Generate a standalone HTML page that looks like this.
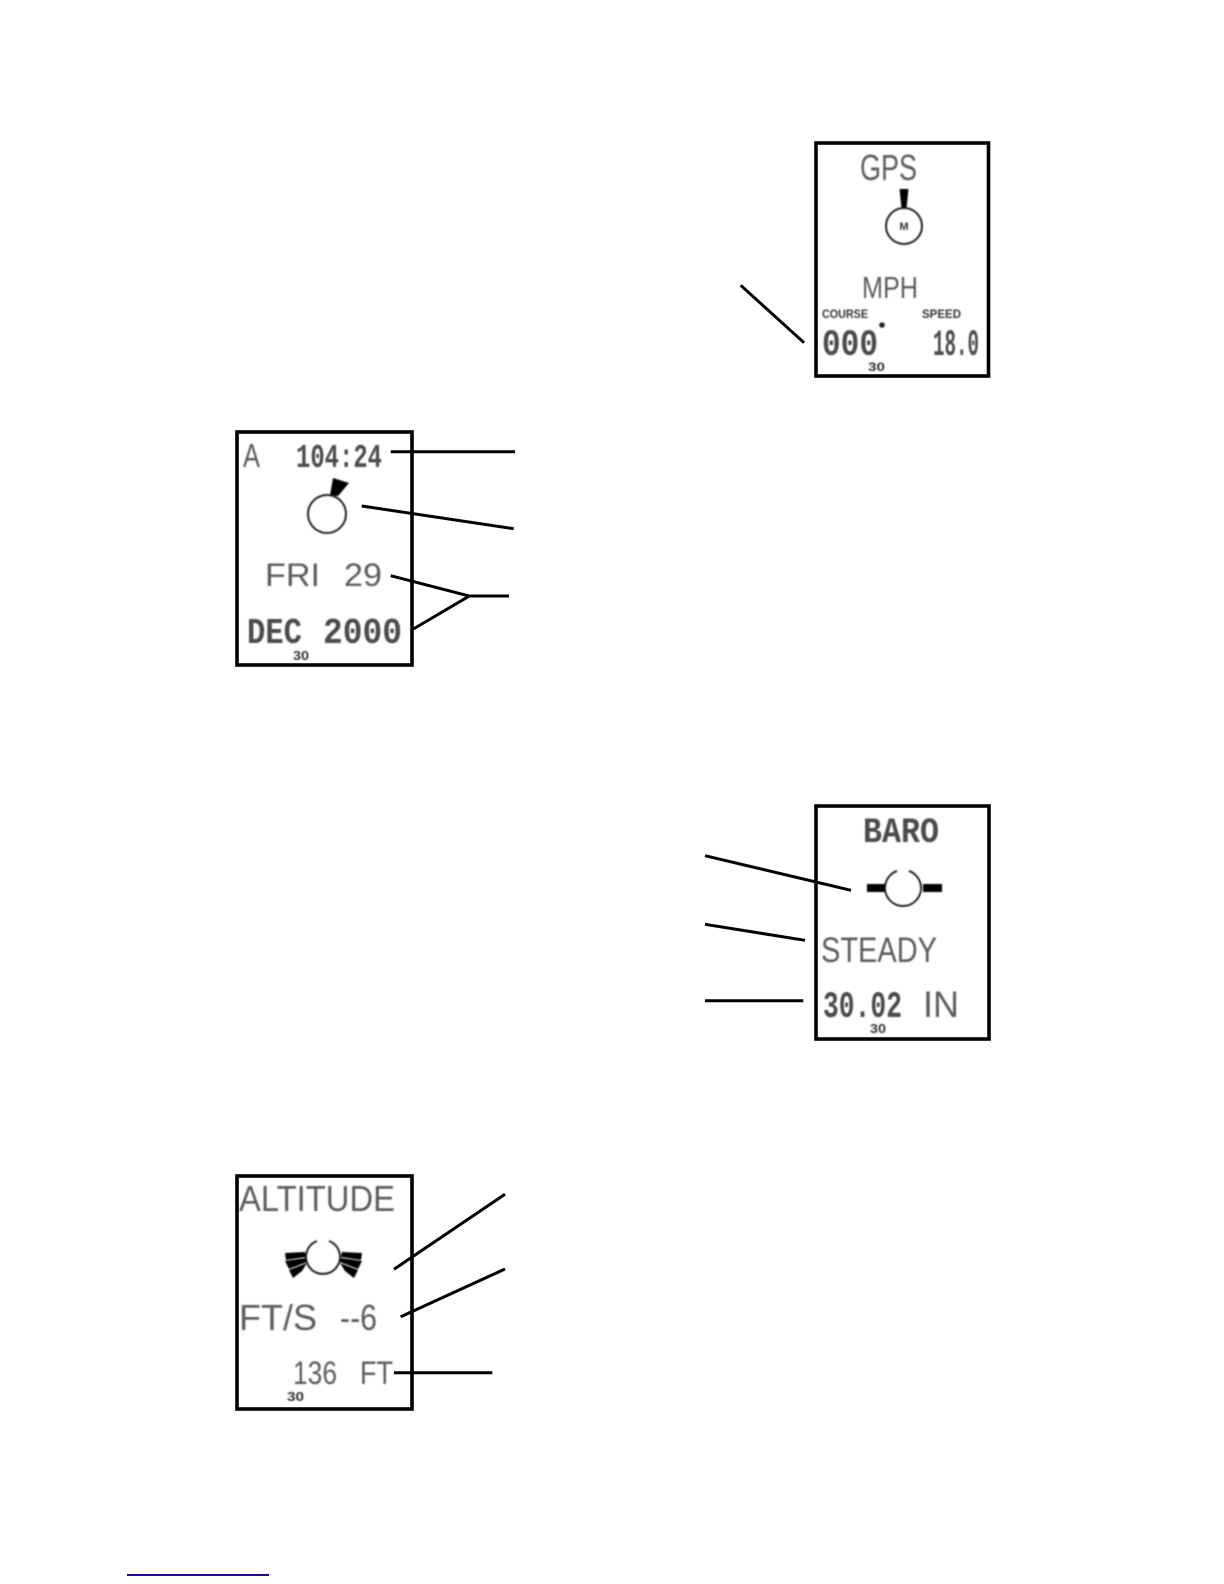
<!DOCTYPE html>
<html>
<head>
<meta charset="utf-8">
<style>
html,body{margin:0;padding:0;background:#fff;width:1224px;height:1584px;overflow:hidden}
svg{display:block}
text{font-family:"Liberation Sans",sans-serif;fill:#5c5c5c}
.m{font-family:"Liberation Mono",monospace;fill:#4c4c4c;font-weight:bold}
.b{font-weight:bold;fill:#333}
</style>
</head>
<body>
<svg width="1224" height="1584" viewBox="0 0 1224 1584" xmlns="http://www.w3.org/2000/svg">
<defs>
<filter id="s" x="-10%" y="-10%" width="120%" height="120%"><feGaussianBlur stdDeviation="0.8"/></filter>
</defs>
<g fill="none" stroke="#000" stroke-width="3.6">
<rect x="816" y="143" width="172.500" height="233"/>
<rect x="237" y="432" width="175" height="233"/>
<rect x="816" y="806" width="173" height="233"/>
<rect x="237" y="1176" width="175" height="233"/>
</g>
<g filter="url(#s)">
<!-- GPS -->
<text x="860" y="180" font-size="36" textLength="57" lengthAdjust="spacingAndGlyphs">GPS</text>
<circle cx="904" cy="226" r="18" fill="none" stroke="#222" stroke-width="2"/>
<polygon points="899.500,189 908.500,189 906.500,208 901.500,208" fill="#000"/>
<text class="b" x="904" y="230" font-size="11" text-anchor="middle">M</text>
<text x="862" y="298" font-size="31" textLength="56" lengthAdjust="spacingAndGlyphs">MPH</text>
<text class="b" x="822" y="318" font-size="12" textLength="46" lengthAdjust="spacingAndGlyphs">COURSE</text>
<text class="b" x="922" y="318" font-size="12" textLength="39" lengthAdjust="spacingAndGlyphs">SPEED</text>
<text class="m" x="822" y="355" font-size="37" textLength="56" lengthAdjust="spacingAndGlyphs">000</text>
<circle cx="882" cy="325" r="2.800" fill="#222"/>
<text class="m" x="933" y="355" font-size="37" textLength="46" lengthAdjust="spacingAndGlyphs">18.0</text>
<text class="b" x="868" y="371" font-size="12" textLength="17" lengthAdjust="spacingAndGlyphs">30</text>
<!-- Alarm -->
<text x="243" y="467" font-size="33" textLength="17" lengthAdjust="spacingAndGlyphs">A</text>
<text class="m" x="296" y="467" font-size="33" textLength="86" lengthAdjust="spacingAndGlyphs">104:24</text>
<circle cx="327" cy="514" r="19" fill="none" stroke="#222" stroke-width="2"/>
<polygon points="333,478 349,483 338,496 330,495" fill="#000"/>
<text x="265" y="586" font-size="32" textLength="55" lengthAdjust="spacingAndGlyphs">FRI</text>
<text x="344" y="586" font-size="32" textLength="38" lengthAdjust="spacingAndGlyphs">29</text>
<text class="m" x="247" y="643" font-size="36" textLength="55" lengthAdjust="spacingAndGlyphs">DEC</text>
<text class="m" x="323" y="643" font-size="36" textLength="79" lengthAdjust="spacingAndGlyphs">2000</text>
<text class="b" x="293" y="660" font-size="13" textLength="16" lengthAdjust="spacingAndGlyphs">30</text>
<!-- Baro -->
<text class="m" x="863" y="842" font-size="35" textLength="76" lengthAdjust="spacingAndGlyphs">BARO</text>
<path d="M897 871 A18 18 0 1 0 909 871" fill="none" stroke="#222" stroke-width="2"/>
<rect x="867" y="884" width="18" height="8" fill="#000"/>
<rect x="923" y="884" width="19" height="8" fill="#000"/>
<text x="821" y="962" font-size="35" textLength="116" lengthAdjust="spacingAndGlyphs">STEADY</text>
<text class="m" x="823" y="1017" font-size="37" textLength="79" lengthAdjust="spacingAndGlyphs">30.02</text>
<text x="923" y="1017" font-size="37" textLength="36" lengthAdjust="spacingAndGlyphs">IN</text>
<text class="b" x="870" y="1033" font-size="13" textLength="16" lengthAdjust="spacingAndGlyphs">30</text>
<!-- Altitude -->
<text x="239" y="1211" font-size="36" textLength="156" lengthAdjust="spacingAndGlyphs">ALTITUDE</text>
<path d="M317 1241 A17 17 0 1 0 329 1241" fill="none" stroke="#222" stroke-width="2"/>
<g fill="#000">
<polygon points="285,1253 305,1252 306,1257 286,1260"/>
<polygon points="285,1261 306,1258 307,1262 289,1269"/>
<polygon points="289,1270 307,1263 302,1271 293,1278"/>
<polygon points="362,1253 342,1252 341,1257 361,1260"/>
<polygon points="362,1261 341,1258 340,1262 358,1269"/>
<polygon points="358,1270 340,1263 345,1271 354,1278"/>
</g>
<text x="239" y="1330" font-size="36" textLength="78" lengthAdjust="spacingAndGlyphs">FT/S</text>
<text x="340" y="1330" font-size="36" textLength="37" lengthAdjust="spacingAndGlyphs">--6</text>
<text x="293" y="1384" font-size="32" textLength="44" lengthAdjust="spacingAndGlyphs">136</text>
<text x="360" y="1384" font-size="32" textLength="33" lengthAdjust="spacingAndGlyphs">FT</text>
<text class="b" x="287" y="1401" font-size="13" textLength="17" lengthAdjust="spacingAndGlyphs">30</text>
</g>
<g fill="none" stroke="#000" stroke-width="3">
<line x1="740.7" y1="285.3" x2="804" y2="342.7"/>
<line x1="390.7" y1="451.7" x2="515" y2="451.7"/>
<line x1="361.7" y1="506" x2="513.7" y2="528.7"/>
<polyline points="390.7,575.7 469.3,596 413.3,629"/>
<line x1="469.3" y1="596" x2="509" y2="596"/>
<line x1="705" y1="855.7" x2="851" y2="890.3"/>
<line x1="705" y1="924.3" x2="805" y2="940.3"/>
<line x1="705" y1="1000.7" x2="803.3" y2="1000.7"/>
<line x1="505" y1="1194.3" x2="394" y2="1269.3"/>
<line x1="505" y1="1269" x2="400.7" y2="1316.7"/>
<line x1="394" y1="1372.7" x2="492.3" y2="1372.7"/>
</g>
<rect x="127" y="1574" width="142" height="2" fill="#10108c"/>
</svg>
</body>
</html>
